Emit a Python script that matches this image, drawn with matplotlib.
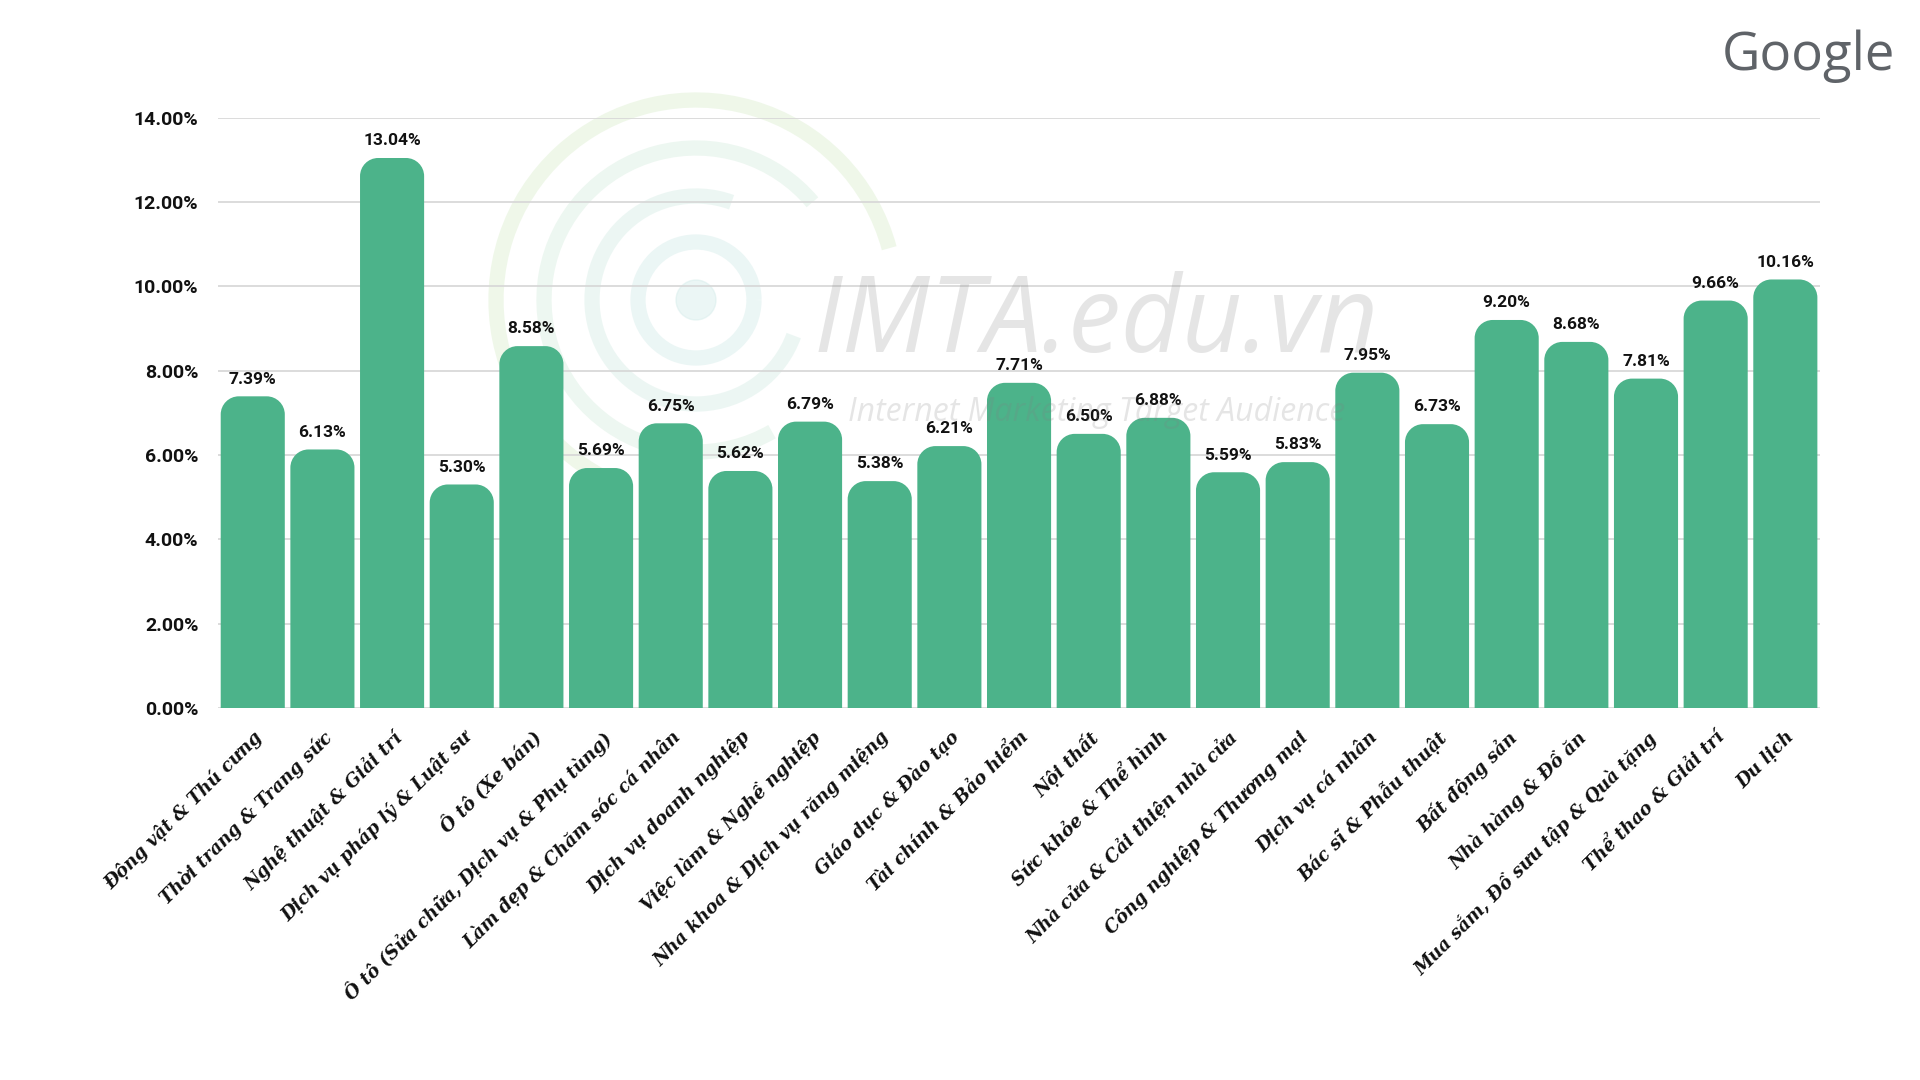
import matplotlib.pyplot as plt
from matplotlib.patches import PathPatch, Arc, Circle
from matplotlib.path import Path

# Dữ liệu
categories = [
    "Động vật & Thú cưng", "Thời trang & Trang sức", "Nghệ thuật & Giải trí",
    "Dịch vụ pháp lý & Luật sư", "Ô tô (Xe bán)", "Ô tô (Sửa chữa, Dịch vụ & Phụ tùng)",
    "Làm đẹp & Chăm sóc cá nhân", "Dịch vụ doanh nghiệp", "Việc làm & Nghề nghiệp",
    "Nha khoa & Dịch vụ răng miệng", "Giáo dục & Đào tạo", "Tài chính & Bảo hiểm",
    "Nội thất", "Sức khỏe & Thể hình", "Nhà cửa & Cải thiện nhà cửa",
    "Công nghiệp & Thương mại", "Dịch vụ cá nhân", "Bác sĩ & Phẫu thuật",
    "Bất động sản", "Nhà hàng & Đồ ăn", "Mua sắm, Đồ sưu tập & Quà tặng",
    "Thể thao & Giải trí", "Du lịch",
]
values = [7.39, 6.13, 13.04, 5.30, 8.58, 5.69, 6.75, 5.62, 6.79, 5.38, 6.21, 7.71,
          6.50, 6.88, 5.59, 5.83, 7.95, 6.73, 9.20, 8.68, 7.81, 9.66, 10.16]
yticks = [0, 2, 4, 6, 8, 10, 12, 14]

bar_color = "#4cb38a"

fig = plt.figure(figsize=(19.2, 10.8), dpi=100)

# logo mờ phía sau (toạ độ pixel)
bg = fig.add_axes([0, 0, 1, 1], zorder=0)
bg.set_xlim(0, 1920)
bg.set_ylim(0, 1080)
bg.axis("off")
cx, cy = 696, 780
rings = [(200, 15, 250, "#dcefcf"), (152, 40, 300, "#d8eee0"),
         (104, 70, 340, "#d6ede6"), (58, 0, 360, "#d4ecea")]
for r, t1, t2, c in rings:
    bg.add_patch(Arc((cx, cy), 2 * r, 2 * r, theta1=t1, theta2=t2, color=c,
                     lw=11, alpha=0.45))
bg.add_patch(Circle((cx, cy), 20, color="#d4ecea", alpha=0.45))

ax = fig.add_axes([0.1135, 0.3444, 0.8345, 0.5468], zorder=1)
ax.patch.set_alpha(0)

x = list(range(len(values)))
bars = ax.bar(x, values, width=0.92, color=bar_color)

# bo tròn góc trên của cột
rx = 0.26
ry = 0.43
k = 0.5523
for b in bars:
    b.set_visible(False)
    x0, w, h = b.get_x(), b.get_width(), b.get_height()
    x1 = x0 + w
    verts = [(x0, 0), (x0, h - ry),
             (x0, h - ry + k * ry), (x0 + rx - k * rx, h), (x0 + rx, h),
             (x1 - rx, h),
             (x1 - rx + k * rx, h), (x1, h - ry + k * ry), (x1, h - ry),
             (x1, 0), (x0, 0)]
    codes = [Path.MOVETO, Path.LINETO,
             Path.CURVE4, Path.CURVE4, Path.CURVE4,
             Path.LINETO,
             Path.CURVE4, Path.CURVE4, Path.CURVE4,
             Path.LINETO, Path.CLOSEPOLY]
    ax.add_patch(PathPatch(Path(verts, codes), fc=bar_color, ec="none", zorder=3))
    ax.annotate("%.2f%%" % h, (x0 + w / 2, h), xytext=(0, 7),
                textcoords="offset points", ha="center", va="bottom",
                fontsize=12.5, fontweight="bold", family="Roboto", color="#111111",
                zorder=5)

ax.set_xlim(-0.5, len(values) - 0.5)
ax.set_ylim(0, 14)
ax.set_yticks(yticks)
ax.set_yticklabels(["%.2f%%" % v for v in yticks], fontsize=14, fontweight="bold",
                   family="Roboto", color="#111111")
ax.set_xticks(x)
ax.set_xticklabels(categories, rotation=45, ha="right", va="top",
                   rotation_mode="anchor", fontsize=13, fontweight="bold",
                   fontstyle="italic", family="DejaVu Serif", color="#111111")
ax.tick_params(axis="x", length=0, pad=14)
ax.tick_params(axis="y", length=0, pad=14)
ax.grid(axis="y", color="#d6d6d6", linewidth=1.2, zorder=0)
ax.set_axisbelow(True)
for s in ax.spines.values():
    s.set_visible(False)

# watermark chữ
fig.text(0.571, 0.70, "IMTA.edu.vn", fontsize=76, fontstyle="italic",
         family="Open Sans", color="#808080", alpha=0.2, ha="center", va="center", zorder=10)
fig.text(0.571, 0.618, "Internet Marketing Target Audience", fontsize=23, fontstyle="italic",
         family="Open Sans", color="#808080", alpha=0.2, ha="center", va="center", zorder=10)

# logo Google
fig.text(0.942, 0.948, "Google", fontsize=38, family="Open Sans", fontweight="medium",
         color="#5f6368", ha="center", va="center")

plt.savefig("out.png", dpi=100)
